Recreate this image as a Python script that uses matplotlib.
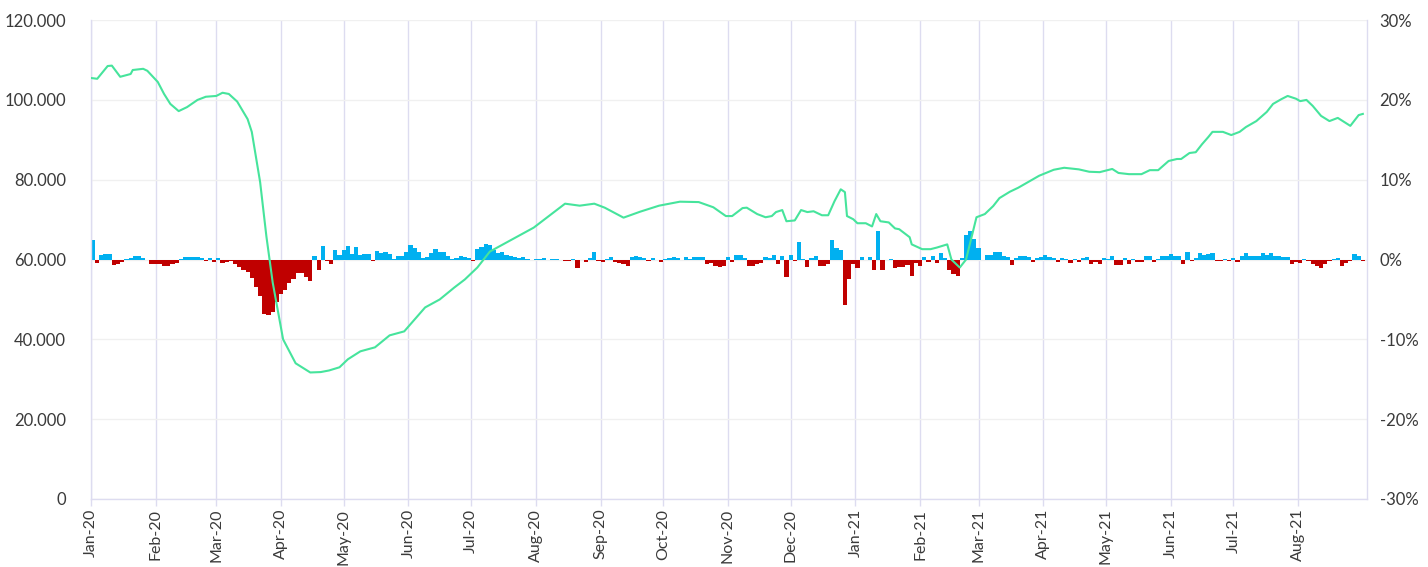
import pandas as pd
import matplotlib
matplotlib.use('Agg')
import matplotlib.pyplot as plt
import matplotlib.dates as mdates

plt.rcParams['font.family'] = ['Lato', 'DejaVu Sans']

start = pd.Timestamp('2020-01-01')

# index level (left axis, thousands) at day offsets from start
line_days = [0, 3, 8, 10, 14, 19, 20, 25, 27, 32, 35, 38, 42, 46, 51, 55, 60, 63, 66, 70,
             75, 77, 81, 84, 87, 92, 98, 105, 110, 114, 119, 123, 129, 136, 143, 150, 155,
             160, 167, 174, 179, 185, 191, 198, 205, 212, 222, 227, 234, 241, 246, 255, 263,
             272, 282, 291, 298, 304, 307, 312, 314, 319, 323, 326, 328, 331, 333, 337, 340,
             343, 346, 350, 353, 356, 359, 361, 362, 365, 367, 371, 374, 376, 378, 382, 385,
             387, 392, 393, 398, 402, 405, 410, 412, 416, 419, 424, 428, 432, 435, 440, 444,
             449, 454, 461, 466, 473, 478, 483, 489, 492, 497, 503, 507, 511, 516, 520, 522,
             526, 529, 532, 535, 537, 542, 546, 550, 553, 558, 563, 566, 570, 573, 577, 579,
             582, 585, 589, 593, 597, 600, 603, 607, 609]
line_vals = [105.5, 105.3, 108.5, 108.6, 105.8, 106.5, 107.5, 107.8, 107.3, 104.5, 101.5, 99.0,
             97.2, 98.2, 100.0, 100.8, 101.0, 101.8, 101.5, 99.6, 95.2, 92.0, 79.4, 65.8, 54.3,
             40.0, 34.0, 31.7, 31.8, 32.2, 33.0, 35.0, 37.0, 38.0, 41.0, 42.0, 45.0, 48.0, 50.0,
             53.0, 55.0, 58.0, 62.0, 64.0, 66.0, 68.0, 72.0, 74.0, 73.5, 74.0, 73.0, 70.5, 72.0,
             73.5, 74.5, 74.4, 73.1, 70.9, 70.9, 72.9, 73.0, 71.4, 70.6, 70.9, 71.9, 72.4, 69.6,
             69.8, 72.4, 71.9, 72.1, 71.1, 71.1, 74.6, 77.6, 76.9, 70.9, 70.1, 69.1, 69.1, 68.3,
             71.4, 69.6, 69.3, 67.8, 67.6, 65.6, 63.8, 62.6, 62.6, 63.0, 63.8, 60.0, 58.0, 60.0,
             70.6, 71.4, 73.4, 75.4, 77.0, 78.0, 79.5, 81.0, 82.5, 83.0, 82.6, 82.0, 81.9, 82.7,
             81.7, 81.4, 81.4, 82.4, 82.4, 84.7, 85.2, 85.2, 86.7, 86.9, 88.9, 90.7, 92.0, 92.0,
             91.2, 92.0, 93.2, 94.7, 97.0, 99.0, 100.2, 101.0, 100.3, 99.7, 100.0, 98.5, 96.0,
             94.7, 95.5, 94.5, 93.5, 96.2, 96.5]

# change in % (right axis), one value per 2-day step from start
chg = [
    # Jan-20
    2.5, -0.4, 0.6, 0.7, 0.75, -0.7, -0.5, -0.3, 0.1, 0.15, 0.45, 0.45, 0.15, -0.1, -0.55, -0.55,
    # Feb-20
    -0.6, -0.85, -0.75, -0.6, -0.4, 0.1, 0.3, 0.35, 0.35, 0.35, 0.2, -0.2, 0.2, -0.25, 0.2,
    # Mar-20
    -0.4, -0.3, -0.2, -0.6, -0.9, -1.3, -1.6, -2.3, -3.5, -4.6, -6.8, -7.0, -6.6, -5.3, -4.3,
    # Apr-20
    -3.8, -3.0, -2.5, -1.7, -1.7, -2.2, -2.7, 0.5, -1.3, 1.75, -0.2, -0.5, 1.25, 0.6, 1.25,
    # May-20
    1.75, 0.75, 1.6, 0.6, 0.75, 0.7, -0.2, 1.1, 0.85, 1.0, 0.7, 0.1, 0.5, 0.4, 1.0, 1.8,
    # Jun-20
    1.4, 0.9, 0.25, 0.3, 0.8, 1.3, 1.0, 0.9, 0.5, 0.1, 0.25, 0.45, 0.35, 0.2, -0.2,
    # Jul-20
    1.3, 1.6, 2.0, 1.8, 1.2, 0.8, 1.0, 0.6, 0.5, 0.3, 0.2, 0.3, 0.1, -0.1, 0.1, 0.1,
    # Aug-20
    0.2, -0.1, 0.1, 0.1, -0.1, -0.2, -0.2, 0.1, -1.0, -0.1, -0.3, 0.2, 0.9, -0.2, -0.3,
    # Sep-20
    0.1, 0.3, -0.3, -0.4, -0.5, -0.8, 0.3, 0.4, 0.3, 0.2, -0.2, 0.2, -0.1, -0.3, 0.1,
    # Oct-20
    0.2, 0.3, 0.2, -0.1, 0.3, 0.1, 0.3, 0.3, 0.3, -0.6, -0.4, -0.75, -0.9, -0.75, 0.35, -0.3,
    # Nov-20
    0.6, 0.6, 0.2, -0.85, -0.85, -0.6, -0.4, 0.35, 0.2, 0.6, -0.5, 0.4, -2.2, 0.6, -0.2,
    # Dec-20
    2.2, 0.1, -0.9, 0.2, 0.4, -0.75, -0.75, -0.6, 2.4, 1.4, 1.2, -5.7, -2.5, -0.6, -1.1, 0.3,
    # Jan-21
    -0.1, 0.3, -1.25, 3.6, -1.25, -0.1, 0.1, -1.1, -0.9, -0.9, -0.7, -2.1, -0.4, -0.85, 0.3, -0.3,
    # Feb-21
    0.4, -0.4, 0.85, 0.2, -1.25, -1.8, -2.0, 0.2, 3.1, 3.6, 2.6, 1.5, -0.1, 0.6,
    # Mar-21
    0.6, 0.9, 0.9, 0.5, 0.3, -0.7, 0.2, 0.5, 0.5, 0.3, -0.3, 0.2, 0.3, 0.6, 0.3, 0.2, -0.3,
    # Apr-21
    0.2, 0.1, -0.4, 0.1, -0.3, 0.2, 0.3, -0.5, -0.3, -0.6, 0.2, 0.1, 0.5, -0.7, -0.7,
    # May-21
    0.2, -0.55, 0.1, -0.3, -0.3, 0.4, 0.4, -0.35, 0.1, 0.4, 0.4, 0.75, 0.4, 0.5, -0.6,
    # Jun-21
    0.9, -0.2, 0.2, 0.85, 0.55, 0.75, 0.85, -0.2, -0.2, 0.1, -0.2, 0.2, -0.35, 0.5, 0.85,
    # Jul-21
    0.4, 0.4, 0.4, 0.85, 0.55, 0.85, 0.4, 0.4, 0.3, 0.3, -0.55, -0.3, -0.4, 0.1, -0.2,
    # Aug-21
    -0.55, -0.85, -1.0, -0.55, -0.2, 0.1, 0.2, -0.75, -0.4, -0.2, 0.75, 0.4, -0.2,
]

month_ticks = pd.date_range('2020-01-01', '2021-08-01', freq='MS')
left_ticks = [0, 20, 40, 60, 80, 100, 120]
left_labels = ['0', '20.000', '40.000', '60.000', '80.000', '100.000', '120.000']
right_ticks = [-30, -20, -10, 0, 10, 20, 30]
right_labels = ['-30%', '-20%', '-10%', '0%', '10%', '20%', '30%']

line_dates = start + pd.to_timedelta(line_days, unit='D')
bar_dates = start + pd.to_timedelta([2 * i for i in range(len(chg))], unit='D')
bar_cols = ['#00b0f0' if v >= 0 else '#c00000' for v in chg]

lav = '#dddcf0'
txt = '#3a3a3a'

fig = plt.figure(figsize=(14.28, 5.67), dpi=100)
ax = fig.add_axes([0.0637, 0.12, 0.8936, 0.8445])

# bars on the base axes (right scale), line on the twin (left scale)
ax.bar(bar_dates, chg, width=2.0, align='edge', color=bar_cols, linewidth=0, zorder=2)
ax.set_ylim(-30, 30)
ax.set_yticks(right_ticks)
ax.set_yticklabels(right_labels)
ax.set_axisbelow(True)
ax.yaxis.grid(True, color='#f0f0f0', lw=1.0)
ax.xaxis.grid(True, color=lav, lw=1.0)

ax2 = ax.twinx()
ax.yaxis.tick_right()
ax2.yaxis.tick_left()
ax2.plot(line_dates, line_vals, color='#46e49c', lw=1.5)
ax2.set_ylim(0, 120)
ax2.set_yticks(left_ticks)
ax2.set_yticklabels(left_labels)

ax.set_xlim(start, start + pd.Timedelta(days=611))
ax.set_xticks(month_ticks)
ax.xaxis.set_major_formatter(mdates.DateFormatter('%b-%y'))
for lbl in ax.get_xticklabels():
    lbl.set_rotation(90)

ax.tick_params(axis='x', colors=lav, length=5, width=1.0, labelcolor=txt, labelsize=11.5, pad=2)
ax.tick_params(axis='y', length=0, labelcolor=txt, labelsize=12, pad=9)
ax2.tick_params(axis='y', length=0, labelcolor=txt, labelsize=12, pad=18)

for a in (ax, ax2):
    a.spines['top'].set_visible(False)
for s in ('left', 'right', 'bottom'):
    ax.spines[s].set_color(lav)
    ax.spines[s].set_linewidth(1.0)
    ax2.spines[s].set_visible(False)

fig.savefig('out.png', dpi=100)
